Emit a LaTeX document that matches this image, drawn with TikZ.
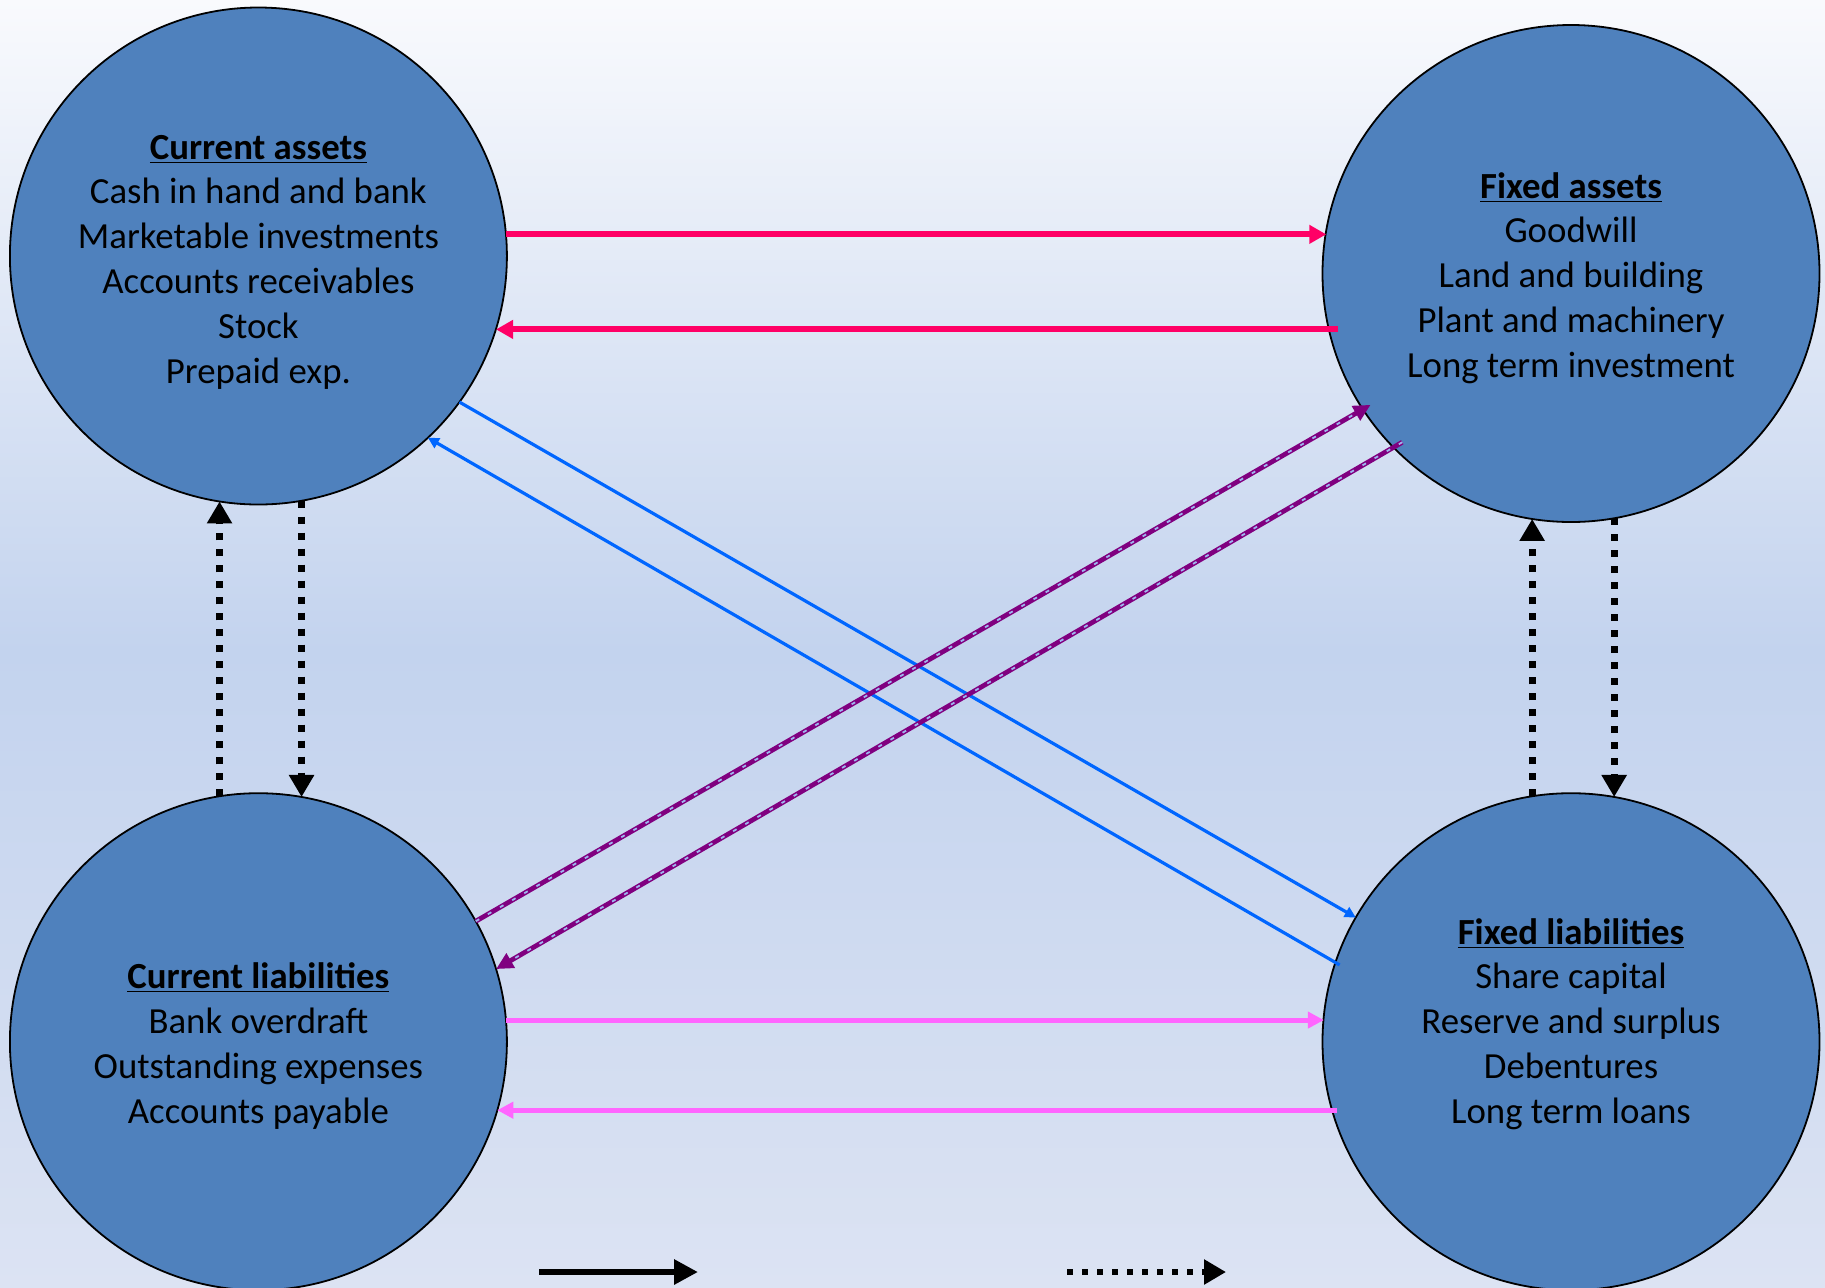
\documentclass[tikz,border=0pt]{standalone}
\usepackage{fontspec}
\setmainfont{Carlito}
\usetikzlibrary{arrows.meta,calc}
\definecolor{nodeblue}{HTML}{4F81BD}
\definecolor{flowred}{HTML}{FF0066}
\definecolor{flowblue}{HTML}{0066FF}
\definecolor{flowpurple}{HTML}{800080}
\definecolor{flowpurplehi}{HTML}{9FB4EE}
\definecolor{flowpink}{HTML}{FF66FF}
\definecolor{bgtop}{HTML}{F9FAFD}
\definecolor{bgmid}{HTML}{C3D3EE}
\definecolor{bgbot}{HTML}{DCE3F3}
\begin{document}
\begin{tikzpicture}[x=0.5pt,y=-0.5pt,
  account/.style={circle, draw=black, line width=0.9pt, fill=nodeblue,
    minimum size=248.5pt, inner sep=0pt, outer sep=0pt},
  acctext/.style={align=center, inner sep=0pt,
    font=\fontsize{18.4}{22.4}\selectfont, text=black},
  redflow/.style={draw=flowred, line width=3pt,
    -{Triangle[length=8.5pt,width=9pt]}},
  pinkflow/.style={draw=flowpink, line width=2.5pt,
    -{Triangle[length=8pt,width=8pt]}},
  blueflow/.style={draw=flowblue, line width=1.6pt,
    -{Triangle[length=5.5pt,width=5.5pt]}},
  purpleflow/.style={draw=flowpurple, line width=2.4pt,
    -{Triangle[length=8.5pt,width=8pt]}},
  purplehi/.style={draw=flowpurplehi, line width=0.9pt,
    dash pattern=on 2pt off 5pt, shorten >=9pt},
  dotflow/.style={draw=black, line width=3.5pt, dash pattern=on 3.5pt off 4.5pt,
    -{Triangle[length=11pt,width=12pt]}},
  solidflow/.style={draw=black, line width=3pt,
    -{Triangle[length=12pt,width=12pt]}}
]
\clip (0,0) rectangle (1825,1287);
% background wash
\shade[top color=bgtop, bottom color=bgmid] (0,0) rectangle (1825,652);
\shade[top color=bgmid, bottom color=bgbot] (0,651) rectangle (1825,1287);

% the four account groups
\node[account] (ca) at (258.4,256) {};
\node[account] (fa) at (1571,273.5) {};
\node[account] (cl) at (258.4,1041.7) {};
\node[account] (fl) at (1571,1041.7) {};

\node[acctext] (catext) at (258.4,262) {\underline{\textbf{Current assets}}\\Cash in hand and bank\\Marketable investments\\Accounts receivables\\Stock\\Prepaid exp.};
\node[acctext] (fatext) at (1571,278) {\underline{\textbf{Fixed assets}}\\Goodwill\\Land and building\\Plant and machinery\\Long term investment};
\node[acctext] (cltext) at (258.4,1046) {\underline{\textbf{Current liabilities}}\\Bank overdraft\\Outstanding expenses\\Accounts payable};
\node[acctext] (fltext) at (1571,1024) {\underline{\textbf{Fixed liabilities}}\\Share capital\\Reserve and surplus\\Debentures\\Long term loans};

% horizontal flows
\draw[redflow] (ca.5.3) -- (ca.5.3 -| fa.170.8);
\draw[redflow] ($(fa.193.5)+(9,0)$) -- (fa.193.5 -| ca.-17.3);
\draw[pinkflow] (cl.5.6) -- (cl.5.6 -| fl.174.4);
\draw[pinkflow] ($(fl.196.8)+(5,0)$) -- (fl.196.8 -| cl.-16.8);

% diagonal flows
\draw[blueflow] (ca.-36.3) -- (fl.150.7);
\draw[blueflow] ($(fl.162)+(5,0)$) -- (ca.-47.8);
\draw[purpleflow] (cl.29.3) -- ($(fa.213)+(8,-4)$);
\draw[purplehi] (cl.29.3) -- ($(fa.213)+(8,-4)$);
\draw[purpleflow] ($(fa.225)+(7,-7)$) -- (cl.17.9);
\draw[purplehi] ($(fa.225)+(7,-7)$) -- (cl.17.9);

% vertical dotted flows
\draw[dotflow] (cl.99.1) -- (ca.-99.1);
\draw[dotflow] (ca.-80.6) -- (cl.80.6);
\draw[dotflow] (fl.99.3) -- (fa.-99.3);
\draw[dotflow] (fa.-80.7) -- (fl.80.7);

% key arrows along the bottom edge
\coordinate (keysolidA) at (539,1272);
\coordinate (keysolidB) at (698,1272);
\coordinate (keydotA) at (1067,1272);
\coordinate (keydotB) at (1226,1272);
\draw[solidflow] (keysolidA) -- (keysolidB);
\draw[dotflow, line width=3pt, dash pattern=on 3pt off 4.5pt] (keydotA) -- (keydotB);
\end{tikzpicture}
\end{document}
